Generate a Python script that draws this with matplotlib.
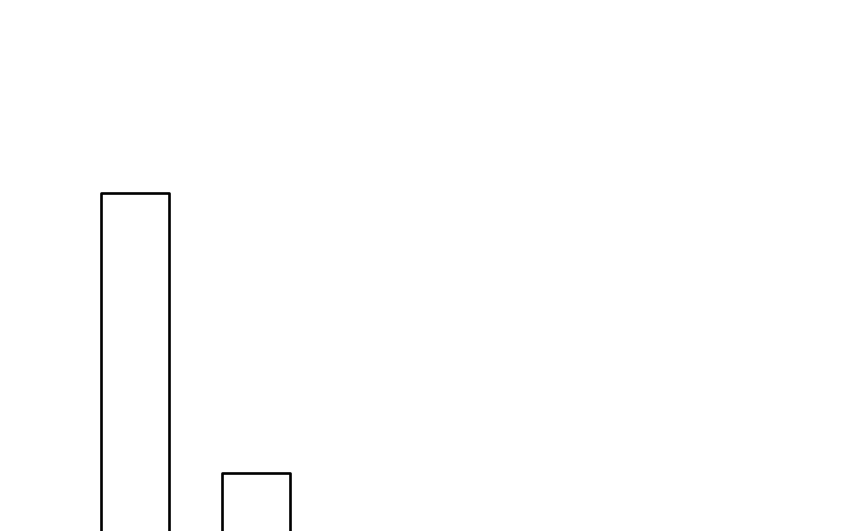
import matplotlib
matplotlib.use("Agg")
import matplotlib.pyplot as plt

# two outlined bars, the view is cropped so the baseline sits below the frame
categories = ["A", "B"]
values = [50, 17]

fig = plt.figure(figsize=(8.5, 5.31), dpi=100)
ax = fig.add_axes([0, 0, 1, 1])

positions = list(range(len(categories)))
ax.bar(positions, values, width=0.56, facecolor="white", edgecolor="black",
       linewidth=1.9, joinstyle="round")

ax.set_xlim(-1.116, 5.918)
ax.set_ylim(10.13, 72.71)
ax.axis("off")

fig.savefig("out.png", dpi=100, facecolor="white")
